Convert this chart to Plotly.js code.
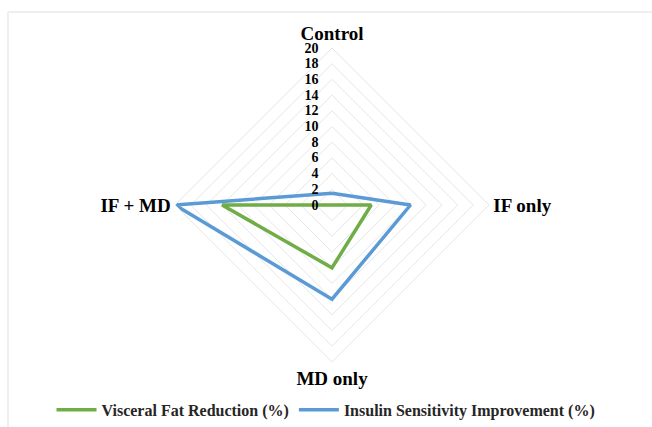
<!DOCTYPE html>
<html>
<head>
<meta charset="utf-8">
<script src="https://cdn.plot.ly/plotly-3.0.1.min.js"></script>
<style>
html,body{margin:0;padding:0;background:#fff;}
#chart{width:652px;height:427px;}
</style>
</head>
<body>
<div id="chart"></div>
<script>
const categories = ["Control", "IF only", "MD only", "IF + MD"];
const visceralFat = [0, 5, 8, 14];
const insulinSens = [1.5, 10, 12, 20];
const seriesNames = ["Visceral Fat Reduction (%)", "Insulin Sensitivity Improvement (%)"];
const radialTicks = [0, 2, 4, 6, 8, 10, 12, 14, 16, 18, 20];

function closeLoop(arr){ return arr.concat([arr[0]]); }

const traces = [
  {
    type: "scatterpolar", mode: "lines",
    r: closeLoop(visceralFat), theta: closeLoop(categories),
    name: seriesNames[0],
    line: {color: "#70AD47", width: 3.5}
  },
  {
    type: "scatterpolar", mode: "lines",
    r: closeLoop(insulinSens), theta: closeLoop(categories),
    name: seriesNames[1],
    line: {color: "#5B9BD5", width: 3.5}
  }
];

const serif = "'Liberation Serif', 'Times New Roman', serif";

const layout = {
  width: 652, height: 427,
  margin: {l: 0, r: 0, t: 0, b: 0},
  paper_bgcolor: "#ffffff",
  showlegend: true,
  legend: {
    orientation: "h", x: 0.5, xanchor: "center", y: 0.04, yanchor: "middle",
    font: {family: serif, size: 16, color: "#262626", weight: "bold"},
    itemwidth: 40, traceorder: "normal"
  },
  polar: {
    domain: {x: [175/652, 489/652], y: [1 - 362/427, 1 - 48/427]},
    bgcolor: "rgba(0,0,0,0)",
    gridshape: "linear",
    angularaxis: {
      rotation: 90, direction: "clockwise",
      categoryorder: "array", categoryarray: categories,
      showgrid: false,
      showline: true, linecolor: "#e6e6e6", linewidth: 1,
      ticks: "",
      tickfont: {family: serif, size: 19, color: "#000", weight: "bold"}
    },
    radialaxis: {
      range: [0, 20], tickvals: radialTicks, ticktext: radialTicks.map(String),
      angle: 90, tickangle: 90, side: "counterclockwise",
      showline: false, gridcolor: "#e6e6e6", gridwidth: 1,
      ticks: "outside", ticklen: 8, tickcolor: "rgba(0,0,0,0)",
      tickfont: {family: serif, size: 14, color: "#000", weight: "bold"}
    }
  },
  shapes: [
    {type: "line", xref: "paper", yref: "paper", x0: 8/652, x1: 8/652, y0: 0, y1: 1 - 12/427,
     line: {color: "#efefef", width: 2}},
    {type: "line", xref: "paper", yref: "paper", x0: 8/652, x1: 1, y0: 1 - 12/427, y1: 1 - 12/427,
     line: {color: "#efefef", width: 2}}
  ]
};

Plotly.newPlot("chart", traces, layout, {displayModeBar: false, staticPlot: true});
</script>
</body>
</html>
